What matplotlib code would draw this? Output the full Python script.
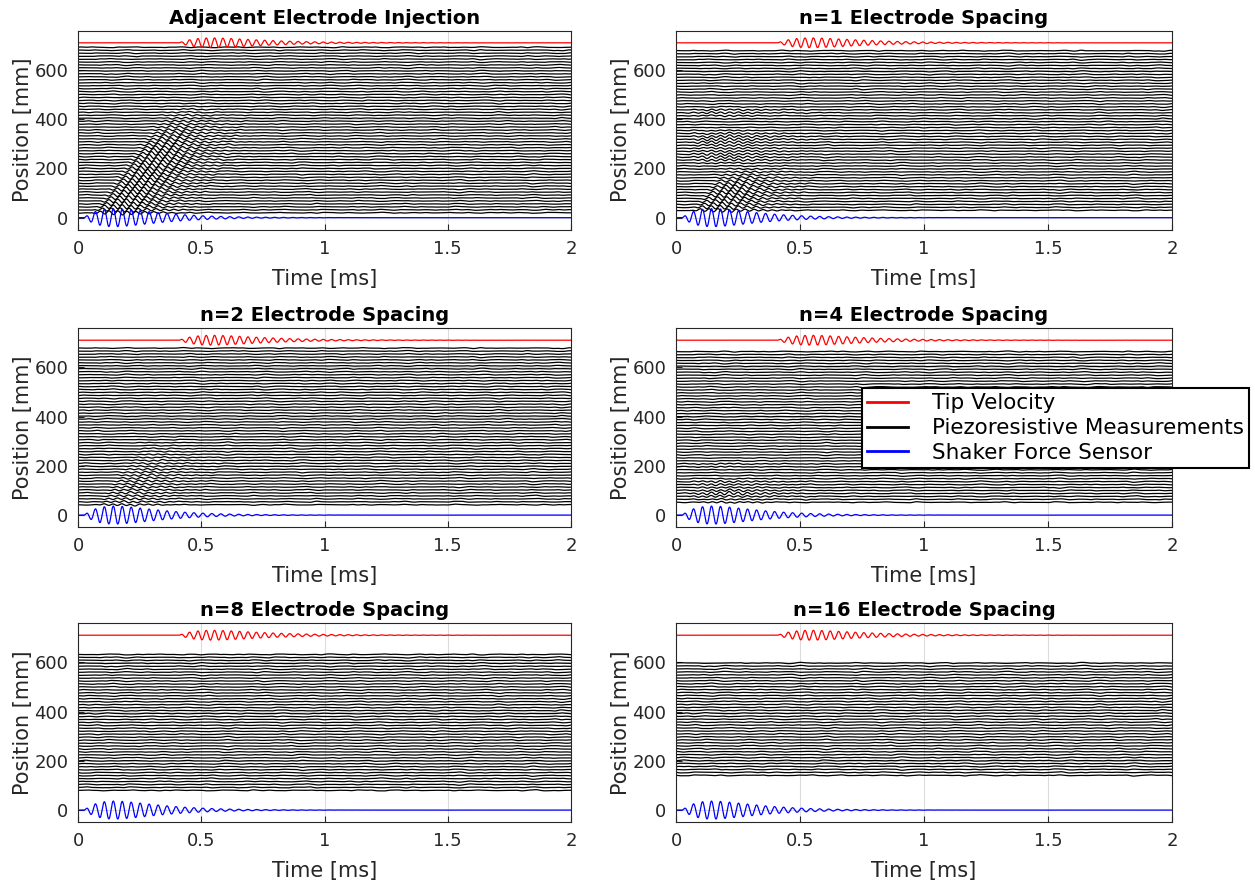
import numpy as np
import matplotlib
matplotlib.use('Agg')
import matplotlib.pyplot as plt
from matplotlib.lines import Line2D

titles = ['Adjacent Electrode Injection', 'n=1 Electrode Spacing',
          'n=2 Electrode Spacing', 'n=4 Electrode Spacing',
          'n=8 Electrode Spacing', 'n=16 Electrode Spacing']

# lowest / highest piezoresistive channel position for each spacing [mm]
trace_lo = [20, 30, 42, 52, 80, 141]
trace_hi = [693, 688, 678, 665, 637, 605]
trace_pitch = 12.0

tip_pos = 710.0      # laser vibrometer at the tip
shaker_pos = 0.0     # force sensor at the clamp

# shaker force burst (kHz, ms, mm of plot offset)
force_f = 27.5
force_t0 = 0.025
force_tpk = 0.12
force_amp = 34.0
force_tail = 3.5
force_tail_tau = 0.40

# tip velocity burst
tip_f = 29.5
tip_t0 = 0.41
tip_tpk = 0.13
tip_amp = 18.0
tip_tail = 2.5
tip_tail_tau = 0.60

# flexural wave travelling up the beam
wave_speed = 1400.0   # mm/ms
wave_delay = 0.03     # ms
wave_tpk = 0.11
wave_order = 1.5

# direct wave seen on the piezoresistive channels
slant_amp = [8.0, 7.0, 3.5, 2.0, 0.0, 0.0]
slant_full = [250, 120, 150, 80, 0, 0]
slant_end = [480, 230, 340, 200, 1, 1]

# channels picking up the drive signal directly (crosstalk)
band_centre = [[], [250, 320, 428], [], [80, 125, 205], [], []]
band_width = [[], [35, 30, 20], [], [25, 18, 15], [], []]
band_amp = [[], [4.5, 5.0, 3.5], [], [4.5, 3.5, 2.0], [], []]

# reverberant field: travelling components (kHz, mm, mm/ms, rad)
bg_freq = [4.3, 5.6, 7.1, 8.8, 10.4, 12.3, 14.1, 16.6, 19.0, 21.8, 25.1, 28.7]
bg_amp = [0.45, 0.5, 0.45, 0.45, 0.4, 0.38, 0.34, 0.3, 0.28, 0.24, 0.2, 0.18]
bg_speed = [520, -690, 840, -930, 1050, -1120, 1210, -1290, 1360, -1410, 1470, -1520]
bg_phase = [0.3, 2.1, 4.0, 1.2, 5.3, 3.6, 0.8, 2.7, 4.6, 1.9, 5.8, 3.1]
bg_gain = [1.0, 1.0, 1.0, 1.0, 1.05, 1.1]

t = np.linspace(0, 2, 2400)


def burst(tt, t0, tpk, amp, f, tail, tau, k=1):
    x = np.clip((tt - t0) / tpk, 0, None)
    env = amp * x ** k * np.exp(k * (1 - x))
    env += tail * np.minimum(x, 1) * np.exp(-np.clip(tt - t0, 0, None) / tau)
    return env * np.sin(2 * np.pi * f * (tt - t0))


def packet(tt):
    return burst(tt, 0.0, wave_tpk, 1.0, force_f, 0.0, 1.0, wave_order)


def crosstalk(tt):
    return burst(tt, force_t0, 0.16, 1.0, force_f, 0.0, 1.0, 1.5)


def background(tt, y):
    s = np.zeros_like(tt)
    for f, a, c, p in zip(bg_freq, bg_amp, bg_speed, bg_phase):
        s += a * np.sin(2 * np.pi * f * (tt - y / c) + p)
    return s


force = burst(t, force_t0, force_tpk, force_amp, force_f, force_tail, force_tail_tau)
tip = burst(t, tip_t0, tip_tpk, tip_amp, tip_f, tip_tail, tip_tail_tau)

W, H = 1255, 890
fig = plt.figure(figsize=(W / 100, H / 100), dpi=100)

col_x = [78 / W, 676 / W]
col_w = [493 / W, 496 / W]
row_bottom = [1 - 230 / H, 1 - 527.4 / H, 1 - 822.4 / H]
ax_h = 199.5 / H

txt = '#262626'
for i, title in enumerate(titles):
    r, c = divmod(i, 2)
    ax = fig.add_axes([col_x[c], row_bottom[r], col_w[c], ax_h])

    pos = np.arange(trace_lo[i], trace_hi[i] + 0.1, trace_pitch)
    for y in pos:
        sig = bg_gain[i] * background(t, y)
        if slant_amp[i] > 0:
            a = slant_amp[i] * np.clip((slant_end[i] - y) / (slant_end[i] - slant_full[i]), 0, 1)
            sig += a * packet(t - wave_delay - y / wave_speed)
        for bc, bw, ba in zip(band_centre[i], band_width[i], band_amp[i]):
            sig += ba * np.exp(-((y - bc) / bw) ** 2) * crosstalk(t)
        ax.plot(t, y + sig, color='k', lw=0.9)

    ax.plot(t, tip_pos + tip, color='#ff0000', lw=0.9)
    ax.plot(t, shaker_pos + force, color='#0000ff', lw=0.9)

    ax.set_xlim(0, 2)
    ax.set_ylim(-50, 760)
    ax.set_xticks([0, 0.5, 1, 1.5, 2])
    ax.set_xticklabels(['0', '0.5', '1', '1.5', '2'])
    ax.set_yticks([0, 200, 400, 600])
    ax.grid(True, color='#dcdcdc', lw=0.8)
    ax.set_axisbelow(True)
    ax.tick_params(direction='in', length=4, labelsize=13, colors=txt, pad=7)
    for sp in ax.spines.values():
        sp.set_color(txt)
        sp.set_linewidth(0.8)
    ax.set_xlabel('Time [ms]', fontsize=15, color=txt, labelpad=8)
    ax.set_ylabel('Position [mm]', fontsize=15, color=txt, labelpad=1)
    ax.set_title(title, fontsize=14, fontweight='bold', pad=5)

handles = [Line2D([], [], color='#ff0000', lw=2),
           Line2D([], [], color='k', lw=2),
           Line2D([], [], color='#0000ff', lw=2)]
leg = fig.legend(handles, ['Tip Velocity', 'Piezoresistive Measurements', 'Shaker Force Sensor'],
                 loc='upper left', bbox_to_anchor=(862 / W, 1 - 388 / H), borderaxespad=0,
                 fontsize=15.5, frameon=True, fancybox=False, edgecolor='k', framealpha=1,
                 handlelength=1.9, handletextpad=1.1, borderpad=0.25, labelspacing=0.22)
leg.get_frame().set_linewidth(1.5)

fig.savefig('out.png', dpi=100)
